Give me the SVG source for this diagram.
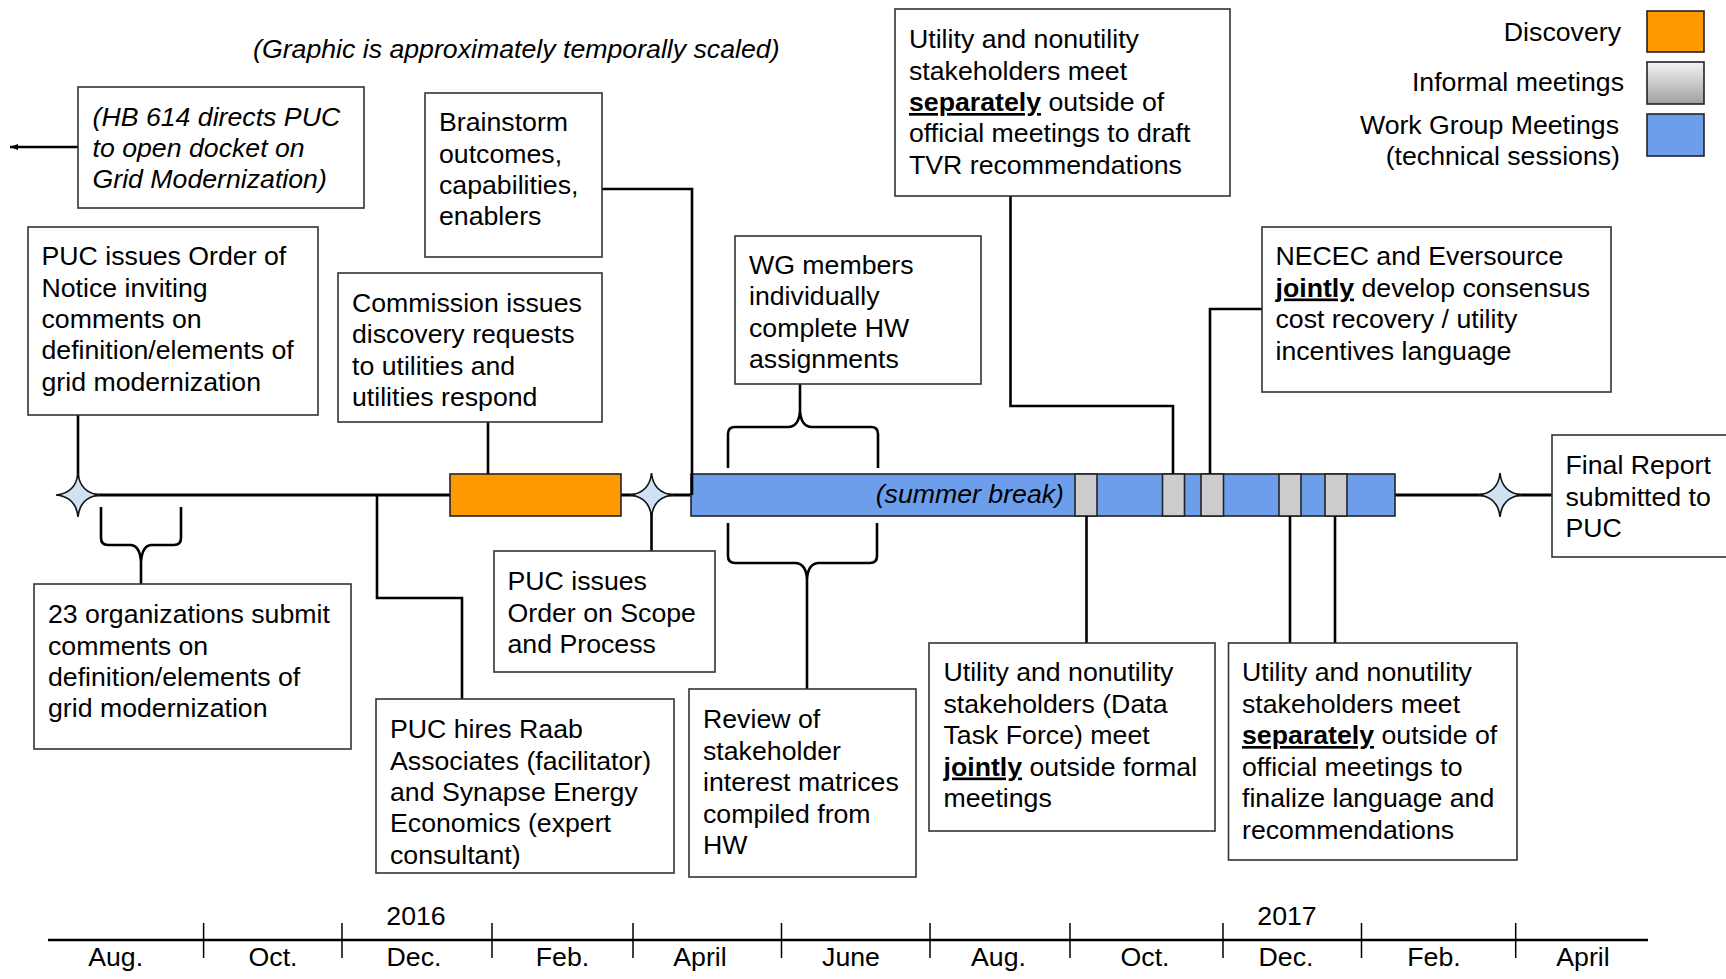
<svg xmlns="http://www.w3.org/2000/svg" width="1726" height="979" viewBox="0 0 1726 979">
<defs>
<style>
text{font-family:"Liberation Sans",Arial,sans-serif;font-size:26.7px;fill:#000}
.it{font-style:italic}
.bu{font-weight:bold;text-decoration:underline}
.box{fill:#fff;stroke:#333;stroke-width:1.6}
.conn{fill:none;stroke:#000;stroke-width:2.6}
.star{fill:#cfe2f3;stroke:#111;stroke-width:1.6}
.seg{stroke:#222;stroke-width:1.6}
.blue{fill:#6d9eeb}
.gray{fill:#cccccc}
.orange{fill:#ff9900}
.tick{stroke:#000;stroke-width:1.5}
.mid{text-anchor:middle}
.end{text-anchor:end}
</style>
<linearGradient id="gg" x1="0" y1="0" x2="0" y2="1">
<stop offset="0" stop-color="#f3f3f3"/>
<stop offset="1" stop-color="#a0a0a0"/>
</linearGradient>
<marker id="ah" markerWidth="10" markerHeight="8" refX="9" refY="4" orient="auto" markerUnits="userSpaceOnUse">
<path d="M1,1 L9,4 L1,7 Z" fill="#000"/>
</marker>
<path id="starshape" d="M0,-22 Q2,-2 22,0 Q2,2 0,22 Q-2,2 -22,0 Q-2,-2 0,-22 Z"/>
</defs>
<rect width="1726" height="979" fill="#fff"/>

<text id="title" class="it" x="253" y="58">(Graphic is approximately temporally scaled)</text>

<g id="legend">
<text class="end" x="1621" y="41">Discovery</text>
<rect class="orange seg" x="1647" y="11" width="57" height="41"/>
<text class="end" x="1624" y="91">Informal meetings</text>
<rect class="seg" fill="url(#gg)" x="1647" y="62" width="57" height="42"/>
<text class="end" x="1619" y="134">Work Group Meetings</text>
<text class="end" x="1620" y="165">(technical sessions)</text>
<rect class="blue seg" x="1647" y="114" width="57" height="42"/>
</g>

<g id="timeline">
<line x1="78" y1="495" x2="1552" y2="495" stroke="#000" stroke-width="3"/>
<rect class="orange seg" x="450" y="474" width="171" height="42"/>
<rect class="blue seg" x="691" y="474" width="704" height="42"/>
<rect class="gray seg" x="1075" y="474" width="22" height="42"/>
<rect class="gray seg" x="1162.5" y="474" width="22" height="42"/>
<rect class="gray seg" x="1201" y="474" width="22.5" height="42"/>
<rect class="gray seg" x="1279" y="474" width="22" height="42"/>
<rect class="gray seg" x="1325" y="474" width="22" height="42"/>
<text class="it end" x="1064" y="503">(summer break)</text>
</g>

<g id="connectors">
<line class="conn" stroke-width="1.6" x1="78" y1="147" x2="10" y2="147" marker-end="url(#ah)"/>
<path class="conn" d="M78,415 L78,495"/>
<path class="conn" d="M488,422 L488,474"/>
<path class="conn" d="M651.5,495 L651.5,551"/>
<path class="conn" d="M377,495 L377,598 L462,598 L462,699"/>
<path class="conn" d="M602,189 L692,189 L692,495"/>
<path class="conn" d="M1010.5,196 L1010.5,406 L1173,406 L1173,474"/>
<path class="conn" d="M1262,309 L1210,309 L1210,474"/>
<path class="conn" d="M1086.5,516 L1086.5,643"/>
<path class="conn" d="M1290,516 L1290,643"/>
<path class="conn" d="M1335,516 L1335,643"/>
<path class="conn" d="M101,507 L101,538 Q101,545 108,545 L131,545 Q140,546 141,562 L141,584 M181,507 L181,538 Q181,545 174,545 L151,545 Q142,546 141,562"/>
<path class="conn" d="M728,468 L728,434 Q728,427 735,427 L789,427 Q799,426 800,411 L800,384 M878,468 L878,434 Q878,427 871,427 L811,427 Q801,426 800,411"/>
<path class="conn" d="M728,523 L728,556 Q728,563 735,563 L796,563 Q806,564 807,579 L807,689 M877,523 L877,556 Q877,563 870,563 L818,563 Q808,564 807,579"/>
</g>

<g id="stars">
<use href="#starshape" class="star" x="78" y="495"/>
<use href="#starshape" class="star" x="651.5" y="495"/>
<use href="#starshape" class="star" x="1500" y="495"/>
</g>

<g id="n-hb614">
<rect class="box" x="78" y="87" width="286" height="121"/>
<text class="it" x="92.5" y="125.5">(HB 614 directs PUC</text>
<text class="it" x="92.5" y="157">to open docket on</text>
<text class="it" x="92.5" y="188">Grid Modernization)</text>
</g>

<g id="n-brainstorm">
<rect class="box" x="425" y="93" width="177" height="164"/>
<text x="439" y="131">Brainstorm</text>
<text x="439" y="162.5">outcomes,</text>
<text x="439" y="194">capabilities,</text>
<text x="439" y="225">enablers</text>
</g>

<g id="n-order-notice">
<rect class="box" x="28" y="227" width="290" height="188"/>
<text x="41.5" y="265">PUC issues Order of</text>
<text x="41.5" y="296.5">Notice inviting</text>
<text x="41.5" y="328">comments on</text>
<text x="41.5" y="359">definition/elements of</text>
<text x="41.5" y="390.5">grid modernization</text>
</g>

<g id="n-commission">
<rect class="box" x="338" y="273" width="264" height="149"/>
<text x="352" y="312">Commission issues</text>
<text x="352" y="343">discovery requests</text>
<text x="352" y="374.5">to utilities and</text>
<text x="352" y="406">utilities respond</text>
</g>

<g id="n-wg">
<rect class="box" x="735" y="236" width="246" height="148"/>
<text x="749" y="273.5">WG members</text>
<text x="749" y="305">individually</text>
<text x="749" y="336.5">complete HW</text>
<text x="749" y="368">assignments</text>
</g>

<g id="n-tvr">
<rect class="box" x="895" y="9" width="335" height="187"/>
<text x="909" y="48">Utility and nonutility</text>
<text x="909" y="79.5">stakeholders meet</text>
<text x="909" y="111"><tspan class="bu">separately</tspan> outside of</text>
<text x="909" y="142">official meetings to draft</text>
<text x="909" y="173.5">TVR recommendations</text>
</g>

<g id="n-necec">
<rect class="box" x="1262" y="227" width="349" height="165"/>
<text x="1275.5" y="265">NECEC and Eversource</text>
<text x="1275.5" y="296.5"><tspan class="bu">jointly</tspan> develop consensus</text>
<text x="1275.5" y="328">cost recovery / utility</text>
<text x="1275.5" y="359.5">incentives language</text>
</g>

<g id="n-final">
<rect class="box" x="1552" y="435" width="200" height="122"/>
<text x="1565.5" y="474">Final Report</text>
<text x="1565.5" y="505.5">submitted to</text>
<text x="1565.5" y="537">PUC</text>
</g>

<g id="n-23orgs">
<rect class="box" x="34" y="584" width="317" height="165"/>
<text x="48" y="623">23 organizations submit</text>
<text x="48" y="654.5">comments on</text>
<text x="48" y="686">definition/elements of</text>
<text x="48" y="717">grid modernization</text>
</g>

<g id="n-scope">
<rect class="box" x="494" y="551" width="221" height="121"/>
<text x="507.5" y="590">PUC issues</text>
<text x="507.5" y="621.5">Order on Scope</text>
<text x="507.5" y="653">and Process</text>
</g>

<g id="n-hires">
<rect class="box" x="376" y="699" width="298" height="174"/>
<text x="390" y="738">PUC hires Raab</text>
<text x="390" y="769.5">Associates (facilitator)</text>
<text x="390" y="801">and Synapse Energy</text>
<text x="390" y="832">Economics (expert</text>
<text x="390" y="863.5">consultant)</text>
</g>

<g id="n-review">
<rect class="box" x="689" y="689" width="227" height="188"/>
<text x="703" y="728">Review of</text>
<text x="703" y="759.5">stakeholder</text>
<text x="703" y="791">interest matrices</text>
<text x="703" y="822.5">compiled from</text>
<text x="703" y="854">HW</text>
</g>

<g id="n-datatf">
<rect class="box" x="929" y="643" width="286" height="188"/>
<text x="943.5" y="681">Utility and nonutility</text>
<text x="943.5" y="712.5">stakeholders (Data</text>
<text x="943.5" y="744">Task Force) meet</text>
<text x="943.5" y="775.5"><tspan class="bu">jointly</tspan> outside formal</text>
<text x="943.5" y="807">meetings</text>
</g>

<g id="n-finalize">
<rect class="box" x="1228.5" y="643" width="288.5" height="217"/>
<text x="1242" y="681">Utility and nonutility</text>
<text x="1242" y="712.5">stakeholders meet</text>
<text x="1242" y="744"><tspan class="bu">separately</tspan> outside of</text>
<text x="1242" y="775.5">official meetings to</text>
<text x="1242" y="807">finalize language and</text>
<text x="1242" y="838.5">recommendations</text>
</g>

<g id="axis">
<line x1="48" y1="940" x2="1648" y2="940" stroke="#000" stroke-width="2.5"/>
<line class="tick" x1="203.6" y1="923" x2="203.6" y2="958"/>
<line class="tick" x1="342" y1="923" x2="342" y2="958"/>
<line class="tick" x1="492" y1="923" x2="492" y2="958"/>
<line class="tick" x1="633" y1="923" x2="633" y2="958"/>
<line class="tick" x1="781.5" y1="923" x2="781.5" y2="958"/>
<line class="tick" x1="930" y1="923" x2="930" y2="958"/>
<line class="tick" x1="1070" y1="923" x2="1070" y2="958"/>
<line class="tick" x1="1223" y1="923" x2="1223" y2="958"/>
<line class="tick" x1="1361.5" y1="923" x2="1361.5" y2="958"/>
<line class="tick" x1="1515.7" y1="923" x2="1515.7" y2="958"/>
<text class="mid" x="416" y="925">2016</text>
<text class="mid" x="1287" y="925">2017</text>
<text class="mid" x="115.6" y="966">Aug.</text>
<text class="mid" x="273" y="966">Oct.</text>
<text class="mid" x="414" y="966">Dec.</text>
<text class="mid" x="562.5" y="966">Feb.</text>
<text class="mid" x="700" y="966">April</text>
<text class="mid" x="851" y="966">June</text>
<text class="mid" x="998.5" y="966">Aug.</text>
<text class="mid" x="1145" y="966">Oct.</text>
<text class="mid" x="1286" y="966">Dec.</text>
<text class="mid" x="1434" y="966">Feb.</text>
<text class="mid" x="1583" y="966">April</text>
</g>
</svg>
